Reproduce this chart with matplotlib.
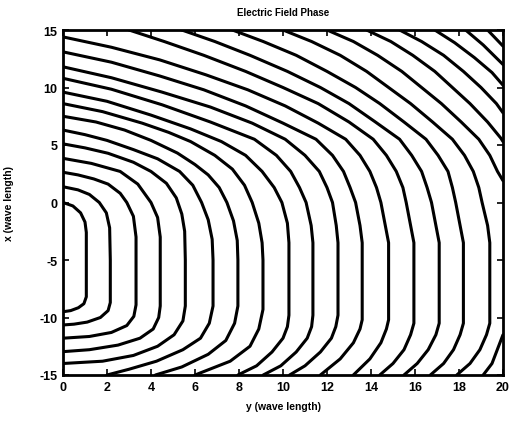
import matplotlib
matplotlib.use("Agg")
import matplotlib.pyplot as plt

# Contour lines of the electric field phase.
# Each contour is a list of (y, x) points in wave lengths, from its upper end to its lower end.
c01 = [(0, 0), (0.45, -0.3), (0.8, -0.9), (1.0, -1.7), (1.06, -2.6), (1.06, -5), (1.06, -8.2),
       (0.95, -8.8), (0.7, -9.15), (0.35, -9.4), (0, -9.5)]
c02 = [(0, 1.37), (0.68, 1.1), (1.2, 0.7), (1.65, 0), (1.97, -0.9), (2.12, -2.2), (2.15, -5),
       (2.15, -8.7), (2.05, -9.4), (1.7, -10.0), (1.1, -10.4), (0.5, -10.58), (0, -10.65)]
c03 = [(0, 2.63), (0.68, 2.4), (1.4, 2.05), (2.05, 1.6), (2.6, 0.8), (2.9, 0), (3.2, -1.2),
       (3.32, -3), (3.32, -8.9), (3.22, -9.9), (2.9, -10.7), (2.2, -11.3), (1.2, -11.65), (0, -11.8)]
c04 = [(0, 3.84), (1.29, 3.4), (2.6, 2.7), (3.4, 1.6), (4.0, 0), (4.3, -1.3), (4.42, -3),
       (4.42, -9.0), (4.35, -10), (4.1, -11), (3.5, -11.8), (2.5, -12.4), (1.2, -12.8), (0, -12.97)]
c05 = [(0, 5.1), (1.0, 4.75), (2.05, 4.28), (3.2, 3.5), (4.0, 2.7), (4.7, 1.67), (5.15, 0.4),
       (5.4, -1.0), (5.53, -2.5), (5.56, -5), (5.56, -9.0), (5.45, -10.3), (5.05, -11.5),
       (4.3, -12.5), (3.2, -13.3), (1.8, -13.8), (0, -14.0)]
c06 = [(0, 6.3), (1.0, 5.9), (2.0, 5.4), (3.2, 4.6), (4.3, 3.8), (5.3, 2.7), (5.9, 1.5), (6.3, 0),
       (6.6, -1.5), (6.78, -3.2), (6.82, -5), (6.82, -9.0), (6.65, -10.5), (6.25, -11.8),
       (5.45, -12.8), (4.25, -13.8), (3.0, -14.5), (2.0, -15)]
c07 = [(0, 7.5), (1.5, 7.0), (2.8, 6.3), (4.0, 5.4), (5.2, 4.3), (6.0, 3.3), (6.6, 2.4), (7.1, 1.3),
       (7.45, 0), (7.75, -1.6), (7.92, -3.3), (7.95, -5), (7.95, -9.0), (7.8, -10.5), (7.4, -12),
       (6.6, -13.2), (5.4, -14.3), (4.2, -15)]
c08 = [(0, 8.6), (1.8, 7.9), (3.6, 6.9), (4.8, 6.1), (5.8, 5.3), (6.9, 4.1), (7.7, 2.9), (8.25, 1.5),
       (8.6, 0), (8.9, -1.8), (9.05, -3.5), (9.09, -5), (9.09, -9.3), (8.9, -11), (8.5, -12.5),
       (7.6, -13.8), (6.0, -15)]
c09 = [(0, 9.6), (2.0, 8.8), (4.0, 7.6), (5.8, 6.4), (7.2, 5.3), (8.3, 4.1), (9.05, 2.7), (9.6, 1.3),
       (9.95, 0), (10.2, -1.8), (10.27, -3.5), (10.27, -9.8), (10.2, -10.8), (10.0, -11.8),
       (9.5, -13), (8.8, -14.2), (7.95, -15)]
c10 = [(0, 10.8), (2.2, 9.85), (4.5, 8.5), (6.7, 7.0), (8.7, 5.5), (9.7, 4.1), (10.35, 2.7),
       (10.75, 1.3), (11.05, 0), (11.28, -2), (11.36, -3.5), (11.36, -9.8), (11.3, -10.8),
       (11.1, -11.8), (10.6, -13), (9.9, -14.2), (9.1, -15)]
c11 = [(0, 11.8), (2.2, 10.85), (4.5, 9.6), (6.7, 8.3), (8.6, 6.9), (10.1, 5.5), (11.0, 4.1),
       (11.65, 2.7), (12.0, 1.3), (12.25, 0), (12.42, -2), (12.5, -3.5), (12.5, -9.8), (12.4, -10.8),
       (12.2, -11.8), (11.7, -13), (11.0, -14.2), (10.3, -15)]
c12 = [(0, 13.1), (2.2, 12.2), (4.4, 11.0), (6.4, 9.8), (8.3, 8.4), (10.0, 6.9), (11.5, 5.5),
       (12.25, 4.1), (12.75, 2.7), (13.05, 1.3), (13.3, 0), (13.5, -2), (13.6, -3.5), (13.6, -10.2),
       (13.5, -11), (13.2, -12.2), (12.6, -13.6), (11.7, -15)]
c13 = [(0, 14.4), (2.2, 13.5), (4.4, 12.4), (6.5, 11.1), (8.4, 9.8), (10.1, 8.4), (11.6, 6.9),
       (12.85, 5.5), (13.5, 4.1), (13.95, 2.7), (14.25, 1.3), (14.45, 0), (14.65, -2), (14.8, -3.5),
       (14.8, -10.2), (14.7, -11), (14.45, -12.2), (13.95, -13.6), (13.2, -15)]
c14 = [(3.0, 15), (4.6, 14.0), (6.4, 12.8), (8.3, 11.4), (10.0, 10.0), (11.6, 8.6), (13.0, 7.0),
       (14.1, 5.5), (14.7, 4.1), (15.15, 2.7), (15.45, 1.3), (15.6, 0), (15.8, -2), (15.95, -3.5),
       (15.95, -10.5), (15.8, -11.5), (15.5, -12.8), (15.0, -14), (14.4, -15)]
c15 = [(5.4, 15), (6.9, 14.0), (8.5, 12.8), (10.2, 11.4), (11.7, 10.0), (13.0, 8.6), (14.2, 7.0),
       (15.3, 5.5), (15.85, 4.1), (16.3, 2.7), (16.55, 1.3), (16.75, 0), (16.95, -2), (17.1, -3.5),
       (17.1, -10.5), (16.95, -11.5), (16.6, -12.8), (16.1, -14), (15.5, -15)]
c16 = [(7.7, 15), (9.1, 14.0), (10.6, 12.8), (12.0, 11.4), (13.3, 10.0), (14.4, 8.6), (15.5, 7.0),
       (16.5, 5.5), (17.05, 4.1), (17.5, 2.7), (17.7, 1.3), (17.85, 0), (18.05, -2), (18.2, -3.5),
       (18.2, -10.5), (18.05, -11.5), (17.75, -12.8), (17.3, -14), (16.7, -15)]
c17 = [(10.0, 15), (11.3, 14.0), (12.6, 12.8), (13.8, 11.4), (14.8, 10.0), (15.8, 8.6), (16.8, 7.0),
       (17.7, 5.5), (18.25, 4.1), (18.65, 2.7), (18.9, 1.3), (19.05, 0), (19.3, -2), (19.4, -3.5),
       (19.4, -10.5), (19.25, -11.5), (18.95, -12.8), (18.5, -14), (17.9, -15)]
c18a = [(12.0, 15), (13.2, 14.0), (14.3, 12.8), (15.4, 11.4), (16.3, 10.0), (17.2, 8.6),
        (18.1, 7.0), (18.9, 5.5), (19.4, 4.1), (19.75, 2.7), (20, 1.9)]
c18b = [(20, -11.5), (19.8, -12.5), (19.5, -14), (19.1, -15)]
c19 = [(13.8, 15), (14.9, 14.0), (15.9, 12.8), (16.9, 11.4), (17.7, 10.0), (18.5, 8.6), (19.3, 7.0),
       (19.9, 5.6), (20, 5.3)]
c20 = [(15.3, 15), (16.3, 14.0), (17.3, 12.8), (18.2, 11.4), (19.0, 10.0), (19.7, 8.6), (20, 7.8)]
c21 = [(16.9, 15), (17.8, 13.9), (18.7, 12.6), (19.5, 11.3), (20, 10.2)]
c22 = [(18.3, 15), (19.1, 13.7), (20, 12.0)]
c23 = [(19.3, 15), (20, 13.6)]

contours = [c01, c02, c03, c04, c05, c06, c07, c08, c09, c10, c11, c12, c13, c14, c15, c16, c17,
            c18a, c18b, c19, c20, c21, c22, c23]

y_ticks = [0, 2, 4, 6, 8, 10, 12, 14, 16, 18, 20]
x_ticks = [-15, -10, -5, 0, 5, 10, 15]

plt.rcParams['font.family'] = ['Liberation Sans', 'DejaVu Sans']
fig = plt.figure(figsize=(5.12, 4.27), dpi=100)
ax = fig.add_axes([63 / 512, 1 - 376 / 427, 440 / 512, 345 / 427])

for c in contours:
    ys = [p[0] for p in c]
    xs = [p[1] for p in c]
    ax.plot(ys, xs, color='black', lw=2.2, solid_capstyle='round', solid_joinstyle='round')

ax.set_xlim(0, 20)
ax.set_ylim(-15, 15)
ax.set_xticks(y_ticks)
ax.set_yticks(x_ticks)
ax.set_xticklabels([str(v) for v in y_ticks], fontweight='bold', fontsize=9)
ax.set_yticklabels([str(v) for v in x_ticks], fontweight='bold', fontsize=9)
ax.tick_params(direction='in', length=4, width=1.2, top=True, right=True, pad=4)
for s in ax.spines.values():
    s.set_linewidth(2.0)

ax.set_title('Electric Field Phase', fontsize=7, fontweight='bold', pad=11)
ax.set_xlabel('y (wave length)', fontsize=7.5, fontweight='bold', labelpad=6)
ax.set_ylabel('x (wave length)', fontsize=7.5, fontweight='bold', labelpad=18)

fig.savefig('out.png', dpi=100)
